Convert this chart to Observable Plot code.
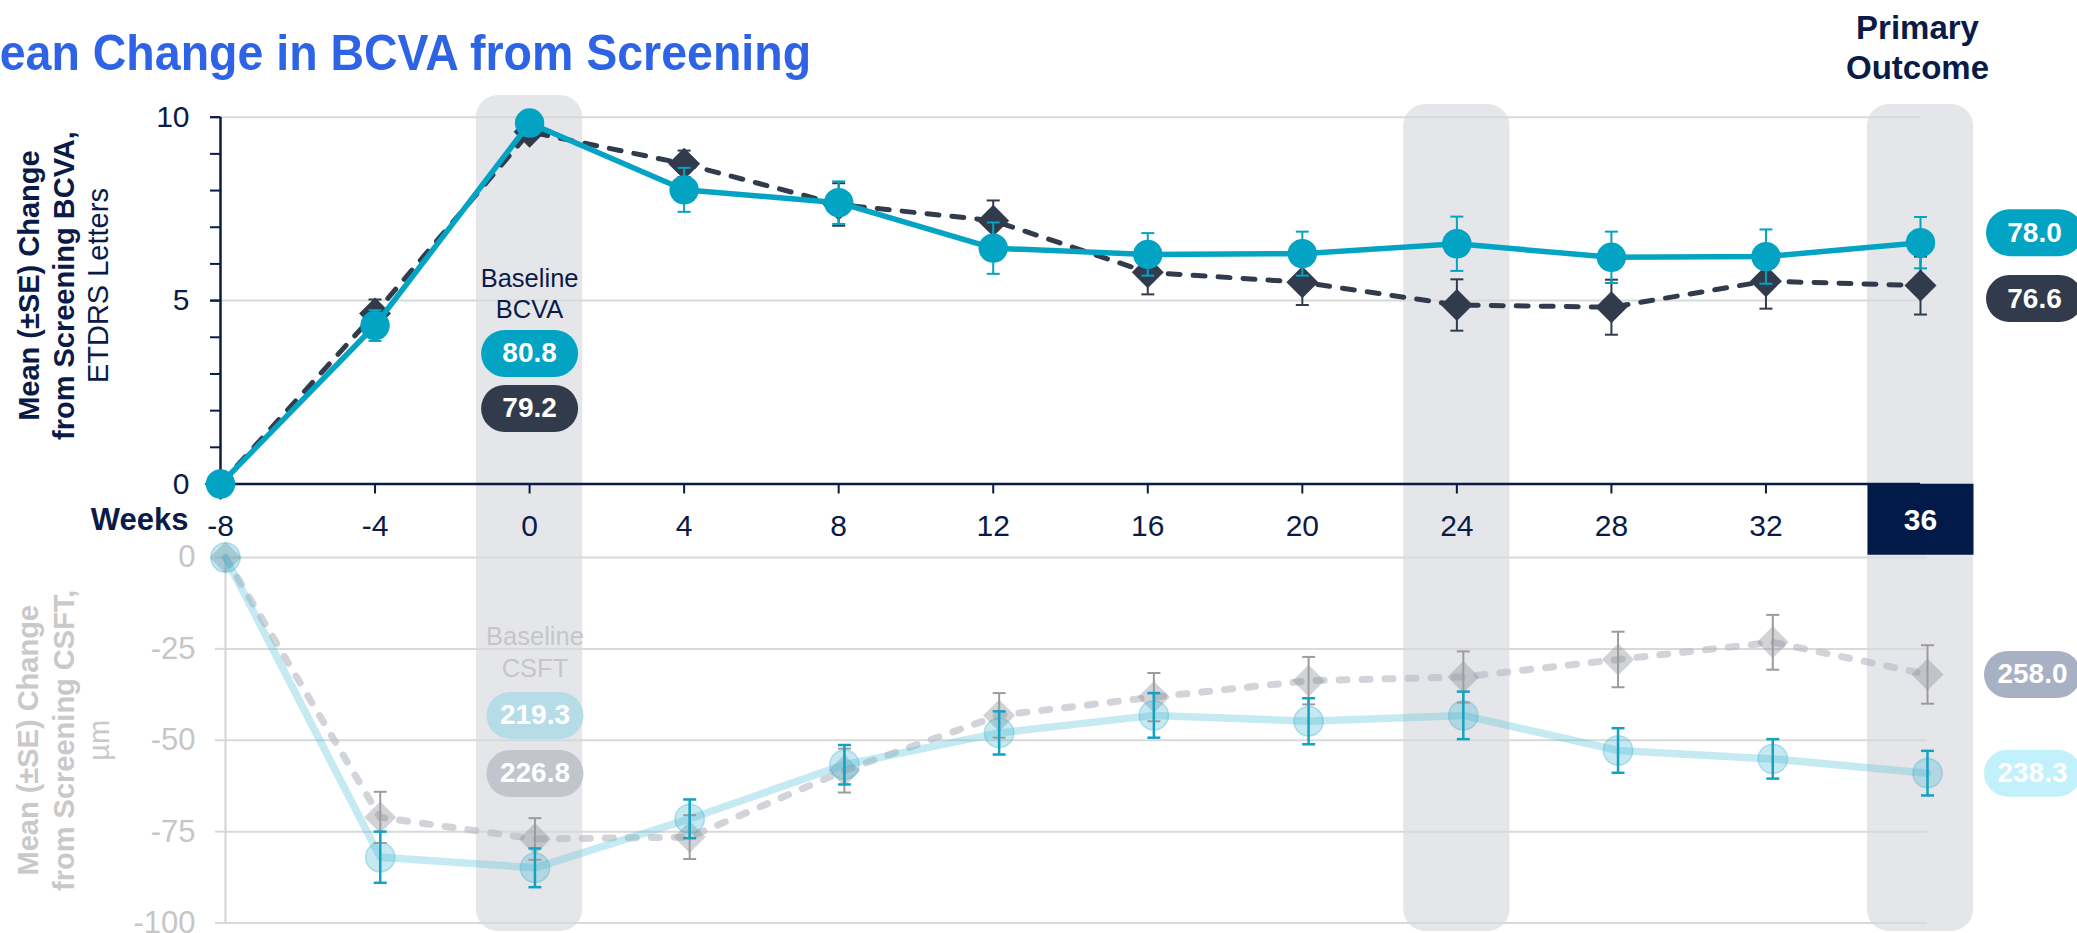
<!DOCTYPE html>
<html><head><meta charset="utf-8">
<script src="https://cdn.jsdelivr.net/npm/d3@7"></script>
<script src="https://cdn.jsdelivr.net/npm/@observablehq/plot@0.6"></script>
<style>
html,body{margin:0;padding:0;background:#fff;overflow:hidden;}
#wrap{position:relative;width:2077px;height:933px;overflow:hidden;font-family:"Liberation Sans",Arial,sans-serif;background:#fff;}
#wrap svg{position:absolute;left:0;top:0;}
#subtitle{position:absolute;left:-39px;top:28px;font-size:50px;line-height:50px;font-weight:bold;color:#2e63e6;white-space:nowrap;z-index:5;transform:scaleX(0.93);transform-origin:0 0;}
</style></head><body>
<div id="wrap"><div id="subtitle">Mean Change in BCVA from Screening</div></div>
<script>
// ---------- data ----------
const weeks = [-8, -4, 0, 4, 8, 12, 16, 20, 24, 28, 32, 36];
const bandWeeks = [0, 24, 36];
// BCVA mean change (letters)
const bcvaTeal   = [0, 4.32, 9.84, 8.02, 7.67, 6.43, 6.26, 6.28, 6.55, 6.18, 6.20, 6.58];
const bcvaTealSE = [0, 0.42, 0.20, 0.60, 0.58, 0.70, 0.58, 0.60, 0.74, 0.70, 0.74, 0.70];
const bcvaDark   = [0, 4.65, 9.60, 8.73, 7.62, 7.18, 5.77, 5.50, 4.88, 4.82, 5.53, 5.41];
const bcvaDarkSE = [0, 0.38, 0.20, 0.36, 0.58, 0.55, 0.60, 0.62, 0.70, 0.75, 0.75, 0.79];
// CSFT mean change (µm)
const csftTeal   = [0, -82.0, -84.9, -71.5, -56.7, -48.0, -43.2, -44.8, -43.2, -52.8, -55.1, -59.0];
const csftTealSE = [0, 7.0, 5.3, 5.3, 5.4, 5.9, 6.1, 6.3, 6.5, 6.1, 5.4, 6.1];
const csftGray   = [0, -71.1, -77.0, -76.5, -58.3, -43.2, -38.2, -33.7, -32.7, -27.9, -23.2, -32.0];
const csftGraySE = [0, 7.0, 5.7, 6.0, 6.0, 6.1, 6.6, 6.5, 7.0, 7.6, 7.5, 8.0];
// absolute values shown in pills
const baselineBCVA = ["80.8", "79.2"];
const week36BCVA = ["78.0", "76.6"];
const baselineCSFT = ["219.3", "226.8"];
const week36CSFT = ["238.3", "258.0"];
const yTicksTop = [0, 5, 10];
const yTicksBottom = [0, -25, -50, -75, -100];

// ---------- styles ----------
const W = 2077, H = 933;
const NAVY = "#0b1b48", TEAL = "#03a3c3", DARK = "#323b4b";
const FONT = "'Liberation Sans', Arial, sans-serif";
const rows = (vals, se) => weeks.map((w, i) => ({week: w, v: vals[i], se: se[i]}));
const bT = rows(bcvaTeal, bcvaTealSE), bD = rows(bcvaDark, bcvaDarkSE);
const cT = rows(csftTeal, csftTealSE), cG = rows(csftGray, csftGraySE);
const withSE = r => r.filter(d => d.se > 0);
const last = a => a[a.length - 1];

function roundRect(w, h, r) {
  return {draw(ctx) {
    const x0 = -w / 2, x1 = w / 2, y0 = -h / 2, y1 = h / 2;
    ctx.moveTo(x0 + r, y0); ctx.lineTo(x1 - r, y0);
    ctx.arcTo(x1, y0, x1, y0 + r, r); ctx.lineTo(x1, y1 - r);
    ctx.arcTo(x1, y1, x1 - r, y1, r); ctx.lineTo(x0 + r, y1);
    ctx.arcTo(x0, y1, x0, y1 - r, r); ctx.lineTo(x0, y0 + r);
    ctx.arcTo(x0, y0, x0 + r, y0, r); ctx.closePath();
  }};
}
const pillSym = roundRect(97, 47, 23.5);
const boxSym = roundRect(106, 71, 0.01);
const capSym = {draw(ctx) { ctx.moveTo(-6.5, 0); ctx.lineTo(6.5, 0); }};

function errorBars(data, color, width) {
  const d = withSE(data);
  return [
    Plot.ruleX(d, {x: "week", y1: r => r.v - r.se, y2: r => r.v + r.se, stroke: color, strokeWidth: width}),
    Plot.dot(d, {x: "week", y: r => r.v + r.se, symbol: capSym, fill: "none", stroke: color, strokeWidth: width}),
    Plot.dot(d, {x: "week", y: r => r.v - r.se, symbol: capSym, fill: "none", stroke: color, strokeWidth: width})
  ];
}
// a pill label (rounded background + white number) at (x, y) shifted by dx/dy pixels
function pill(label, x, y, color, dx = 0, dy = 0) {
  return [
    Plot.dot([label], {x, y, dx, dy, symbol: pillSym, fill: color, stroke: "none"}),
    Plot.text([label], {x, y, dx, dy, text: d => d, fill: "white", fontWeight: "bold", fontSize: 28, lineAnchor: "middle"})
  ];
}

// ---------- bands layer ----------
const bandsPlot = Plot.plot({
  width: W, height: H, marginLeft: 220, marginRight: 157, marginTop: 95, marginBottom: 2,
  x: {domain: [-8, 36], axis: null}, y: {axis: null},
  style: {background: "transparent", fontFamily: FONT},
  marks: [
    Plot.rect(bandWeeks.filter(w => w === 0), {x1: w => w - 1.375, x2: w => w + 1.375, fill: "#e5e6ea", rx: 22}),
    Plot.rect(bandWeeks.filter(w => w !== 0), {x1: w => w - 1.375, x2: w => w + 1.375, fill: "#e5e6ea", rx: 22, insetTop: 9})
  ]
});

// ---------- bottom panel (CSFT) ----------
const GRAYTXT = "#c6c6c6";
const bottomPlot = Plot.plot({
  width: W, height: H, marginLeft: 225, marginRight: 150, marginTop: 557, marginBottom: 10.5,
  x: {domain: [-8, 36], axis: null}, y: {domain: [-100, 0]},
  style: {background: "transparent", fontFamily: FONT},
  marks: [
    Plot.gridY({ticks: yTicksBottom, stroke: "#d9d9d9", strokeOpacity: 1, strokeWidth: 2}),
    Plot.axisY({ticks: yTicksBottom, tickSize: 10, tickPadding: 20, fontSize: 31, fill: GRAYTXT, stroke: "#d9d9d9", strokeWidth: 2, label: null, tickFormat: d => String(d)}),
    Plot.ruleX([-8], {y1: -100, y2: 0, stroke: "#d4d4d4", strokeWidth: 2}),
    Plot.text(["Mean (\u00B1SE) Change"], {frameAnchor: "left", dx: -197, rotate: -90, fontSize: 29, fontWeight: "bold", fill: "#c9c9c9", textAnchor: "middle", lineAnchor: "middle"}),
    Plot.text(["from Screening CSFT,"], {frameAnchor: "left", dx: -161, rotate: -90, fontSize: 29, fontWeight: "bold", fill: "#c9c9c9", textAnchor: "middle", lineAnchor: "middle"}),
    Plot.text(["\u00B5m"], {frameAnchor: "left", dx: -126, rotate: -90, fontSize: 29, fill: "#c9c9c9", textAnchor: "middle", lineAnchor: "middle"}),
    // gray series
    Plot.line(cG, {x: "week", y: "v", stroke: "#b6b8c0", strokeOpacity: 0.6, strokeWidth: 7, strokeDasharray: "8,15", strokeLinecap: "round"}),
    Plot.dot(cG, {x: "week", y: "v", symbol: "diamond2", r: 14.4, fill: "#878c97", fillOpacity: 0.38, stroke: "none"}),
    // teal series
    Plot.line(cT, {x: "week", y: "v", stroke: "#5cc3d6", strokeOpacity: 0.35, strokeWidth: 7.5}),
    Plot.dot(cT, {x: "week", y: "v", r: 14.7, fill: "#3fb4cf", fillOpacity: 0.3, stroke: "#3fb4cf", strokeOpacity: 0.35, strokeWidth: 1.5}),
    ...errorBars(cG, "#9c9c9c", 2),
    ...errorBars(cT, "#12a2c2", 2.5),
    // baseline annotation
    Plot.text(["Baseline\nCSFT"], {x: 0, y: -25.6, fontSize: 25.5, fill: GRAYTXT, lineHeight: 1.22, lineAnchor: "middle"}),
    ...pill(baselineCSFT[0], 0, -43.2, "#b6dde7"),
    ...pill(baselineCSFT[1], 0, -59.1, "#c3c5cc"),
    // end labels
    ...pill(week36CSFT[0], 36, last(csftTeal), "#c2f1fb", 105, 0),
    ...pill(week36CSFT[1], 36, last(csftGray), "#a8b1c3", 105, 0)
  ]
});

// ---------- top panel (BCVA) ----------
const topPlot = Plot.plot({
  width: W, height: H, marginLeft: 220, marginRight: 157, marginTop: 116.7, marginBottom: 449.5,
  x: {domain: [-8, 36]}, y: {domain: [0, 10]},
  style: {background: "transparent", fontFamily: FONT},
  marks: [
    Plot.gridY({ticks: [5, 10], stroke: "#d9d9d9", strokeOpacity: 1, strokeWidth: 2}),
    Plot.axisY({ticks: d3.range(0, 11), tickSize: 10, tickFormat: () => "", stroke: NAVY, strokeWidth: 2, label: null}),
    Plot.axisY({ticks: yTicksTop, tickSize: 10, tickPadding: 21, fontSize: 30, fill: NAVY, stroke: NAVY, strokeWidth: 2, label: null, tickFormat: d => String(d)}),
    Plot.ruleX([-8], {stroke: NAVY, strokeWidth: 2.5}),
    Plot.axisX({ticks: weeks.slice(0, -1), tickSize: 10, tickPadding: 21, fontSize: 30, fill: NAVY, stroke: NAVY, strokeWidth: 2, label: null, tickFormat: d => String(d)}),
    Plot.ruleY([0], {stroke: NAVY, strokeWidth: 2.5}),
    Plot.text(["Weeks"], {frameAnchor: "bottom-left", dx: -32, dy: 36, textAnchor: "end", lineAnchor: "middle", fontSize: 31, fontWeight: "bold", fill: NAVY}),
    Plot.dot([last(weeks)], {x: d => d, y: 0, dy: 35.3, symbol: boxSym, fill: "#021a47", stroke: "none"}),
    Plot.text([last(weeks)], {x: d => d, y: 0, dy: 36, text: d => String(d), fill: "white", fontWeight: "bold", fontSize: 30, lineAnchor: "middle"}),
    Plot.text(["Primary\nOutcome"], {x: 36, frameAnchor: "top", dx: -3, dy: -71, fontSize: 33, fontWeight: "bold", fill: NAVY, lineHeight: 1.21, lineAnchor: "middle"}),
    Plot.text(["Mean (\u00B1SE) Change"], {frameAnchor: "left", dx: -191, dy: -15, rotate: -90, fontSize: 29, fontWeight: "bold", fill: NAVY, textAnchor: "middle", lineAnchor: "middle"}),
    Plot.text(["from Screening BCVA,"], {frameAnchor: "left", dx: -156, dy: -15, rotate: -90, fontSize: 29, fontWeight: "bold", fill: NAVY, textAnchor: "middle", lineAnchor: "middle"}),
    Plot.text(["ETDRS Letters"], {frameAnchor: "left", dx: -122, dy: -15, rotate: -90, fontSize: 29, fill: NAVY, textAnchor: "middle", lineAnchor: "middle"}),
    // dark series
    Plot.line(bD, {x: "week", y: "v", stroke: DARK, strokeWidth: 5, strokeDasharray: "12,13", strokeLinecap: "round"}),
    ...errorBars(bD, DARK, 2),
    Plot.dot(bD, {x: "week", y: "v", symbol: "diamond2", r: 14.4, fill: DARK, stroke: "none"}),
    // teal series
    Plot.line(bT, {x: "week", y: "v", stroke: TEAL, strokeWidth: 5.5}),
    ...errorBars(bT, TEAL, 2),
    Plot.dot(bT, {x: "week", y: "v", r: 14.7, fill: TEAL, stroke: "none"}),
    // baseline annotation
    Plot.text(["Baseline\nBCVA"], {x: 0, y: 5.21, fontSize: 25.5, fill: NAVY, lineHeight: 1.22, lineAnchor: "middle"}),
    ...pill(baselineBCVA[0], 0, 3.56, TEAL),
    ...pill(baselineBCVA[1], 0, 2.06, DARK),
    // end labels
    ...pill(week36BCVA[0], 36, last(bcvaTeal), TEAL, 114, -10),
    ...pill(week36BCVA[1], 36, last(bcvaDark), DARK, 114, 13)
  ]
});

const wrap = document.getElementById("wrap");
wrap.appendChild(bandsPlot);
wrap.appendChild(bottomPlot);
wrap.appendChild(topPlot);
</script>
</body></html>
